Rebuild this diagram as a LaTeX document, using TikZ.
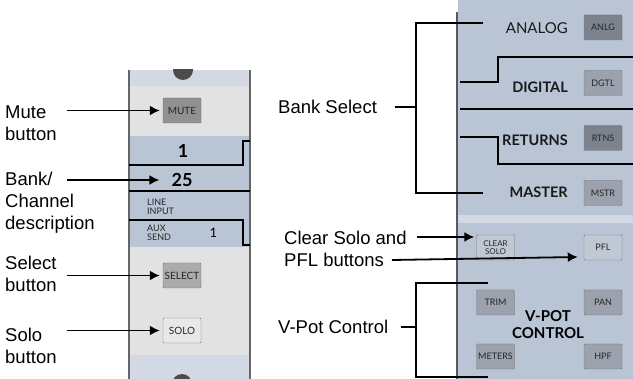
\documentclass[tikz,border=0pt]{standalone}
\usepackage{fontspec}
\setmainfont{Liberation Sans}
\newfontfamily\panelfont{Lato}
\usetikzlibrary{arrows.meta}
\definecolor{StripBlue}{RGB}{185,196,212}
\definecolor{StripPale}{RGB}{211,217,228}
\definecolor{StripGray}{RGB}{226,226,226}
\definecolor{KeyDark}{RGB}{124,131,142}
\definecolor{KeyMid}{RGB}{155,162,173}
\definecolor{KeyLight}{RGB}{192,200,212}
\tikzset{
  key/.style={draw=black!55,rounded corners=1pt,minimum width=38pt,minimum height=25pt,
    inner sep=0pt,text=black!85,font=\panelfont\fontsize{9}{9}\selectfont},
  lbl/.style={anchor=west,align=left,inner sep=0pt,font=\fontsize{18.5}{22}\selectfont},
  arr/.style={-{Latex[length=10pt,width=10pt]},line width=1.8pt},
  bank/.style={anchor=east,inner sep=0pt,text=black!90,font=\panelfont\fontsize{15}{15}\selectfont},
  brace/.style={line width=1.2pt}
}

\begin{document}
\begin{tikzpicture}[x=1pt,y=-1pt]
  \useasboundingbox (0,0) rectangle (633,379);
  \begin{scope}
    \clip (129,70) rectangle (250,379);
    \fill[StripPale] (129,70) rectangle (250,86);
    \fill[StripGray] (129,86) rectangle (250,136);
    \fill[StripBlue] (129,136) rectangle (250,247);
    \fill[StripGray] (129,247) rectangle (250,355);
    \fill[StripPale] (129,355) rectangle (250,379);
    \fill[black!70] (183,70) circle (10) (182,384) circle (10);
  \end{scope}
  \draw[black!60,line width=1.2pt] (129,70) -- (129,379) (250,70) -- (250,379);
  \draw[brace] (250,141) -- (243,141) -- (243,165) -- (129,165);
  \draw[line width=2.2pt] (129,191) -- (250,191);
  \draw[brace] (129,220) -- (243,220) -- (243,245) -- (250,245);

  \node[key,fill=black!43,draw=black!57,font=\panelfont\fontsize{10}{10}\selectfont] (mute) at (182,110.5) {MUTE};
  \node[key,fill=black!33,font=\panelfont\fontsize{10}{10}\selectfont] (select) at (182,275.5) {SELECT};
  \node[key,fill=black!9,font=\panelfont\fontsize{10}{10}\selectfont] (solo) at (182,330.5) {SOLO};
  \node[inner sep=0pt,font=\panelfont\bfseries\fontsize{18}{18}\selectfont] (bankno) at (183,151) {1};
  \node[inner sep=0pt,font=\panelfont\bfseries\fontsize{18}{18}\selectfont] (channo) at (182,180) {25};
  \node[anchor=west,align=left,inner sep=0pt,text=black!85,font=\panelfont\fontsize{9}{9.5}\selectfont] (input) at (147,207) {LINE\\INPUT};
  \node[anchor=west,align=left,inner sep=0pt,text=black!85,font=\panelfont\fontsize{9}{9.5}\selectfont] (aux) at (147,233) {AUX\\SEND};
  \node[inner sep=0pt,font=\panelfont\fontsize{13}{13}\selectfont] (auxno) at (213.5,233) {1};

  \coordinate (tail) at (67,0);
  \node[lbl] (mutelbl) at (5,123.5) {Mute\\button};
  \node[lbl] (banklbl) at (5,203) {Bank/\\Channel\\description};
  \node[lbl] (selectlbl) at (5,273.5) {Select\\button};
  \node[lbl] (sololbl) at (5,345.5) {Solo\\button};
  \draw[arr,shorten >=3pt] (tail |- mute.west) -- (mute.west);
  \draw[arr,shorten >=12pt] (tail |- channo.west) -- (channo.west);
  \draw[arr,shorten >=3pt] (tail |- select.west) -- (select.west);
  \draw[arr,shorten >=3pt] (tail |- solo.west) -- (solo.west);

  \fill[StripBlue] (458,0) rectangle (633,379);
  \fill[StripPale] (458,215) rectangle (633,223);
  \draw[black!65,line width=1.5pt] (457,12) -- (457,379);
  \draw[brace] (460,82) -- (498,82) -- (498,57) -- (633,57);
  \draw[line width=2.2pt] (460,109) -- (633,109);
  \draw[brace] (460,137) -- (498,137) -- (498,164) -- (633,164);

  \node[key,fill=KeyDark] (anlg) at (603,27.5) {ANLG};
  \node[key,fill=KeyMid] (dgtl) at (603,83) {DGTL};
  \node[key,fill=KeyDark] (rtns) at (603,138) {RTNS};
  \node[key,fill=KeyMid] (mstr) at (603,193) {MSTR};
  \node[bank] (analog) at (568,28) {ANALOG};
  \node[bank,font=\panelfont\bfseries\fontsize{14.5}{14.5}\selectfont] (digital) at (568,87) {DIGITAL};
  \node[bank,font=\panelfont\bfseries\fontsize{14.5}{14.5}\selectfont] (returns) at (568,140) {RETURNS};
  \node[bank,font=\panelfont\bfseries\fontsize{14.5}{14.5}\selectfont] (master) at (568,192) {MASTER};

  \node[key,fill=KeyLight,align=center,font=\panelfont\fontsize{8}{8}\selectfont] (clear) at (495.5,247.5) {CLEAR\\SOLO};
  \node[key,fill=KeyLight] (pfl) at (603,247.5) {PFL};
  \node[key,fill=KeyMid] (trim) at (495.5,302.5) {TRIM};
  \node[key,fill=KeyMid] (pan) at (603,302.5) {PAN};
  \node[key,fill=KeyMid] (meters) at (495.5,356.5) {METERS};
  \node[key,fill=KeyMid] (hpf) at (603,356.5) {HPF};
  \node[align=center,inner sep=0pt,font=\panelfont\bfseries\fontsize{15}{17}\selectfont] (vpot) at (548,324.5) {V-POT\\CONTROL};

  \node[lbl] (banksel) at (278,107) {Bank Select};
  \node[lbl] (clearlbl) at (284,248.5) {Clear Solo and\\PFL buttons};
  \node[lbl] (vpotlbl) at (278,327) {V-Pot Control};
  \coordinate (bstop) at (483,23);
  \coordinate (bsspine) at (416,23);
  \coordinate (bsbot) at (483,193);
  \draw[brace] (bstop) -- (bsspine) |- (bsbot);
  \draw[brace] ([xshift=18pt]banksel.east) -- (banksel.east -| bsspine);
  \coordinate (vptop) at (488,283);
  \coordinate (vpspine) at (416,283);
  \coordinate (vpbot) at (488,377);
  \draw[brace] (vptop) -- (vpspine) |- (vpbot);
  \draw[brace] ([xshift=13pt]vpotlbl.east) -- (vpotlbl.east -| vpspine);
  \coordinate (cleartail) at (417,237);
  \coordinate (pfltail) at (392,260);
  \draw[arr,shorten >=2pt] (cleartail) -- (cleartail -| clear.west);
  \draw[arr] (pfltail) -- ([xshift=-6pt,yshift=-9.5pt]pfl.west);
\end{tikzpicture}
\end{document}
